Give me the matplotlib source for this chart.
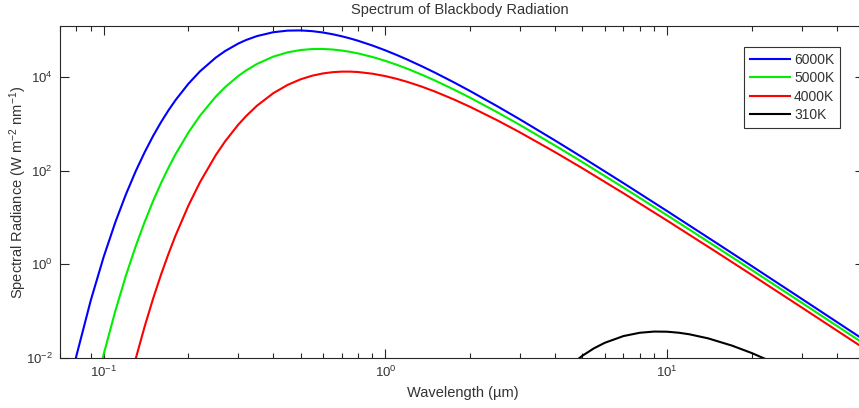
import matplotlib
matplotlib.use('Agg')
import matplotlib.pyplot as plt
from matplotlib.ticker import FixedLocator, NullFormatter

plt.rcParams['font.family'] = ['Liberation Sans', 'DejaVu Sans']
plt.rcParams['mathtext.default'] = 'regular'

# values (W m^-2 nm^-1), wavelength in um
wl = [0.07, 0.08, 0.09, 0.1, 0.11, 0.12, 0.13, 0.14, 0.15, 0.16,
      0.17, 0.18, 0.2, 0.22, 0.25, 0.27, 0.3, 0.32, 0.35, 0.4,
      0.45, 0.5, 0.55, 0.6, 0.65, 0.7, 0.75, 0.8, 0.9, 1.0,
      1.1, 1.2, 1.35, 1.5, 1.75, 2, 2.5, 3, 4, 5,
      7, 10, 15, 20, 30, 50]
rad_6000 = [2.95e-4, 1.10e-2, 0.170, 1.44, 7.92, 31.5, 98.3, 253, 562, 1105,
            1971, 3243, 7257, 13400, 26160, 36240, 52020, 62100, 75450, 91260,
            98820, 99770, 96240, 90080, 82660, 74860, 67190, 59990, 47440, 37410,
            29610, 23580, 17000, 12490, 7764, 5047, 2380, 1258, 445, 194.5,
            54.5, 13.8, 2.84, 0.918, 0.185, 0.0244]
rad_5000 = [3.1e-7, 2.73e-5, 8.25e-4, 1.19e-2, 0.101, 0.579, 2.46, 8.24, 23.0, 55.2,
            117.4, 225.8, 659.6, 1515, 3841, 6133, 10510, 13870, 19150, 27470,
            33930, 38030, 39940, 40090, 39000, 37100, 34750, 32180, 27000, 22310,
            18320, 15040, 11230, 8481, 5457, 3636, 1773, 956.6, 347, 153.9,
            43.8, 11.22, 2.33, 0.756, 0.153, 0.0202]
rad_4000 = [1.1e-11, 3.4e-9, 2.8e-7, 8.9e-6, 1.46e-4, 1.44e-3, 9.70e-3, 4.83e-2, 0.190, 0.615,
            1.70, 4.15, 18.1, 57.6, 216, 427, 955.6, 1464, 2452, 4544,
            6851, 9000, 10760, 12020, 12790, 13140, 13140, 12880, 11860, 10540,
            9179, 7900, 6247, 4927, 3348, 2320, 1192, 664.6, 250.7, 113.7,
            33.1, 8.64, 1.82, 0.594, 0.121, 0.0161]
wl_310 = [4, 4.5, 5, 5.5, 6, 7, 8, 9, 10, 11, 12, 14, 17, 20, 25, 30]
rad_310 = [3.34e-3, 6.73e-3, 1.114e-2, 1.609e-2, 2.104e-2, 2.942e-2,
           3.462e-2, 3.671e-2, 3.644e-2, 3.468e-2, 3.211e-2, 2.623e-2,
           1.838e-2, 1.273e-2, 7.09e-3, 4.16e-3]

series = [
    ('6000K', wl, rad_6000, 'b'),
    ('5000K', wl, rad_5000, '#00ee00'),
    ('4000K', wl, rad_4000, 'r'),
    ('310K', wl_310, rad_310, 'k'),
]

W, H = 859, 408
txt = '#333333'
fig = plt.figure(figsize=(W / 100, H / 100), dpi=100)
ax = fig.add_axes([60 / W, 50 / H, 804 / W, 332 / H])

for name, x, y, c in series:
    ax.plot(x, y, color=c, lw=1.5, label=name)

ax.set_xscale('log')
ax.set_yscale('log')
ax.set_xlim(0.07, 50)
ax.set_ylim(1e-2, 1.24e5)

ax.set_yticks([1e-2, 1e0, 1e2, 1e4])
ax.yaxis.set_minor_locator(FixedLocator([]))
ax.xaxis.set_major_locator(FixedLocator([0.1, 1, 10]))
minors = [0.07, 0.08, 0.09] + [k * 0.1 for k in range(2, 10)] + \
    list(range(2, 10)) + [20, 30, 40]
ax.xaxis.set_minor_locator(FixedLocator(minors))
ax.xaxis.set_minor_formatter(NullFormatter())

ax.tick_params(which='both', direction='in', top=True, right=True,
               colors='#262626', labelcolor=txt, labelsize=9.5)
ax.tick_params(which='major', length=6.5, width=0.8, pad=5)
ax.tick_params(which='minor', length=3.5, width=0.8)
for s in ax.spines.values():
    s.set_color('#262626')
    s.set_linewidth(0.8)

ax.set_xlabel('Wavelength (µm)', fontsize=10.5, color=txt)
ax.xaxis.set_label_coords((463 - 60) / 804, (358 - 386) / 332)
ax.set_ylabel('Spectral Radiance (W m$^{-2}$ nm$^{-1}$)', fontsize=10.5,
              color=txt)
ax.yaxis.set_label_coords((29 - 60) / 804, 0.5)

fig.text(459.5 / W, 1 - 10 / H, 'Spectrum of Blackbody Radiation',
         ha='center', va='center', fontsize=10.5, color=txt)

leg = ax.legend(loc='upper left', bbox_to_anchor=(744 / W, 1 - 47 / H),
                bbox_transform=fig.transFigure, fancybox=False,
                edgecolor='#333333', framealpha=1, fontsize=10,
                handlelength=2.9, labelspacing=0.33, borderpad=0.4,
                handletextpad=0.3, borderaxespad=0)
leg.get_frame().set_linewidth(0.8)
for t in leg.get_texts():
    t.set_color(txt)

fig.savefig('out.png', dpi=100)
